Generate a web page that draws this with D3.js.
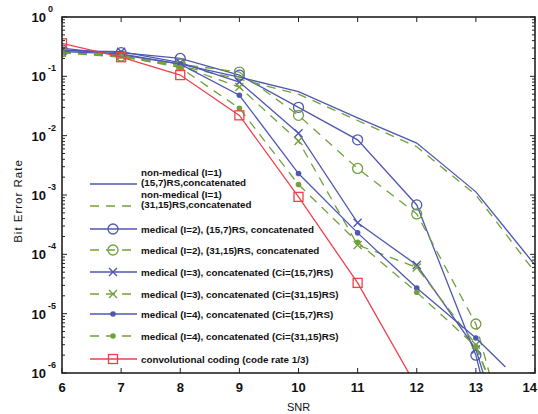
<!DOCTYPE html>
<html>
<head>
<meta charset="utf-8">
<script src="https://cdn.jsdelivr.net/npm/d3@7"></script>
<style>
  body { margin: 0; background: #fff; }
  svg { font-family: "Liberation Sans", Arial, sans-serif; }
</style>
</head>
<body>
<svg id="chart" width="538" height="414"></svg>
<script>
// ---- data ----
var snr = [6, 7, 8, 9, 10, 11, 12, 13, 14];
var snrMed = [6, 7, 8, 9, 10, 11, 12, 13, 13.5];
var snrConv = [6, 7, 8, 9, 10, 11, 12];

var nonMed157 = [0.30, 0.23, 0.16, 0.097, 0.055, 0.020, 0.0075, 0.00113, 6.6e-5];
var nonMed3115 = [0.25, 0.21, 0.15, 0.090, 0.050, 0.018, 0.0065, 0.0010, 5.0e-5];
var med2_157 = [0.28, 0.25, 0.20, 0.105, 0.030, 0.0085, 0.00068, 2.0e-6, 2.0e-8];
var med2_3115 = [0.26, 0.22, 0.16, 0.118, 0.022, 0.0028, 0.00048, 6.7e-6, 1.0e-7];
var med3_157 = [0.27, 0.26, 0.17, 0.080, 0.011, 3.4e-4, 6.6e-5, 2.5e-6, 6.0e-8];
var med3_3115 = [0.25, 0.22, 0.15, 0.066, 0.0081, 1.44e-4, 6.0e-5, 3.0e-6, 1.5e-7];
var med4_157 = [0.26, 0.24, 0.16, 0.048, 0.0023, 2.3e-4, 2.7e-5, 3.9e-6, 1.26e-6];
var med4_3115 = [0.25, 0.22, 0.14, 0.029, 0.0015, 1.6e-4, 2.3e-5, 2.8e-6, 1.5e-7];
var conv = [0.36, 0.21, 0.105, 0.022, 9.3e-4, 3.3e-5, 5.8e-7];

var xTicks = [6, 7, 8, 9, 10, 11, 12, 13, 14];
var yExps = [0, -1, -2, -3, -4, -5, -6];

var legendNames = [
  ["non-medical (I=1)", "(15,7)RS,concatenated"],
  ["non-medical (I=1)", "(31,15)RS,concatenated"],
  ["medical (I=2), (15,7)RS, concatenated"],
  ["medical (I=2), (31,15)RS, concatenated"],
  ["medical (I=3), concatenated (Ci=(15,7)RS)"],
  ["medical (I=3), concatenated (Ci=(31,15)RS)"],
  ["medical (I=4), concatenated (Ci=(15,7)RS)"],
  ["medical (I=4), concatenated (Ci=(31,15)RS)"],
  ["convolutional coding (code rate 1/3)"]
];

// ---- styles ----
var BLUE = "#4f58b0", GREEN = "#72a03c", RED = "#f0404c";
var DASH = "9,7";
var series = [
  { x: snr, y: nonMed157, color: BLUE, dash: null, mark: null },
  { x: snr, y: nonMed3115, color: GREEN, dash: DASH, mark: null },
  { x: snrMed, y: med2_157, color: BLUE, dash: null, mark: "circle" },
  { x: snrMed, y: med2_3115, color: GREEN, dash: DASH, mark: "circle" },
  { x: snrMed, y: med3_157, color: BLUE, dash: null, mark: "x" },
  { x: snrMed, y: med3_3115, color: GREEN, dash: DASH, mark: "x" },
  { x: snrMed, y: med4_157, color: BLUE, dash: null, mark: "dot" },
  { x: snrMed, y: med4_3115, color: GREEN, dash: DASH, mark: "dot" },
  { x: snrConv, y: conv, color: RED, dash: null, mark: "square" }
];

var svg = d3.select("#chart");
var L = 62, R = 535, T = 17, B = 373;

var x = d3.scaleLinear().domain([6, 14]).range([L, R]);
var y = d3.scaleLog().domain([1e-6, 1]).range([B, T]);

svg.append("defs").append("clipPath").attr("id", "clip")
  .append("rect").attr("x", L).attr("y", T).attr("width", R - L).attr("height", B - T);

var plot = svg.append("g").attr("clip-path", "url(#clip)");

function drawMark(g, type, cx, cy, color) {
  if (type == "circle") {
    g.append("circle").attr("cx", cx).attr("cy", cy).attr("r", 5)
      .attr("fill", "none").attr("stroke", color).attr("stroke-width", 1.3);
  } else if (type == "square") {
    g.append("rect").attr("x", cx - 4.5).attr("y", cy - 4.5).attr("width", 9).attr("height", 9)
      .attr("fill", "none").attr("stroke", color).attr("stroke-width", 1.3);
  } else if (type == "x") {
    g.append("path").attr("d", "M" + (cx - 4) + "," + (cy - 4) + "L" + (cx + 4) + "," + (cy + 4) +
      "M" + (cx - 4) + "," + (cy + 4) + "L" + (cx + 4) + "," + (cy - 4))
      .attr("stroke", color).attr("stroke-width", 1.4);
  } else if (type == "dot") {
    g.append("circle").attr("cx", cx).attr("cy", cy).attr("r", 2.8).attr("fill", color);
  }
}

var line = d3.line().x(function(d){ return x(d[0]); }).y(function(d){ return y(d[1]); });

series.forEach(function(s) {
  var pts = s.x.map(function(v, i){ return [v, s.y[i]]; });
  plot.append("path").datum(pts)
    .attr("fill", "none").attr("stroke", s.color).attr("stroke-width", 1.3)
    .attr("stroke-dasharray", s.dash)
    .attr("d", line);
  if (s.mark) {
    pts.forEach(function(p) {
      if (p[0] % 1 == 0) drawMark(plot, s.mark, x(p[0]), y(p[1]), s.color);
    });
  }
});

// ---- axes box and ticks ----
var axes = svg.append("g").attr("stroke", "#222").attr("stroke-width", 1);
axes.append("rect").attr("x", L).attr("y", T).attr("width", R - L).attr("height", B - T)
  .attr("fill", "none").attr("stroke-width", 1.6);

xTicks.forEach(function(t) {
  axes.append("line").attr("x1", x(t)).attr("x2", x(t)).attr("y1", B).attr("y2", B - 5);
  axes.append("line").attr("x1", x(t)).attr("x2", x(t)).attr("y1", T).attr("y2", T + 5);
});

yExps.forEach(function(e) {
  var yy = y(Math.pow(10, e));
  axes.append("line").attr("x1", L).attr("x2", L + 5).attr("y1", yy).attr("y2", yy);
  axes.append("line").attr("x1", R).attr("x2", R - 5).attr("y1", yy).attr("y2", yy);
  if (e > -6) {
    for (var k = 2; k <= 9; k++) {
      var ym = y(k * Math.pow(10, e - 1));
      axes.append("line").attr("x1", L).attr("x2", L + 3).attr("y1", ym).attr("y2", ym);
      axes.append("line").attr("x1", R).attr("x2", R - 3).attr("y1", ym).attr("y2", ym);
    }
  }
});

// tick labels
var lab = svg.append("g").attr("fill", "#111").attr("font-weight", "bold");
xTicks.forEach(function(t, i) {
  var last = i == xTicks.length - 1;
  lab.append("text").attr("x", last ? 537 : x(t)).attr("y", 392)
    .attr("text-anchor", last ? "end" : "middle")
    .attr("font-size", 13).text(t);
});
yExps.forEach(function(e) {
  var yy = y(Math.pow(10, e));
  lab.append("text").attr("x", 46).attr("y", yy + 5).attr("text-anchor", "end")
    .attr("font-size", 13).text("10");
  lab.append("text").attr("x", 48).attr("y", yy - 5).attr("font-size", 9).text(e);
});

lab.append("text").attr("x", x(10)).attr("y", 411).attr("text-anchor", "middle")
  .attr("font-size", 11).attr("font-weight", "normal").text("SNR");
lab.append("text").attr("transform", "translate(22,201) rotate(-90)")
  .attr("text-anchor", "middle").attr("font-size", 11.5).attr("font-weight", "normal")
  .attr("letter-spacing", 1).text("Bit Error Rate");

// ---- legend ----
var legY = [184, 206, 229, 250, 272, 294, 314, 336, 359];
var leg = svg.append("g");
series.forEach(function(s, i) {
  var ly = legY[i];
  leg.append("line").attr("x1", 90).attr("x2", 137).attr("y1", ly).attr("y2", ly)
    .attr("stroke", s.color).attr("stroke-width", 1.3).attr("stroke-dasharray", s.dash);
  if (s.mark) drawMark(leg, s.mark, 113, ly, s.color);
  var names = legendNames[i];
  names.forEach(function(n, j) {
    var ty = names.length == 2 ? ly - 11 + j * 10 + 3 : ly + 3.5;
    leg.append("text").attr("x", 141).attr("y", ty)
      .attr("font-size", 9.8).attr("font-weight", "bold").attr("fill", "#111").text(n);
  });
});
</script>
</body>
</html>
